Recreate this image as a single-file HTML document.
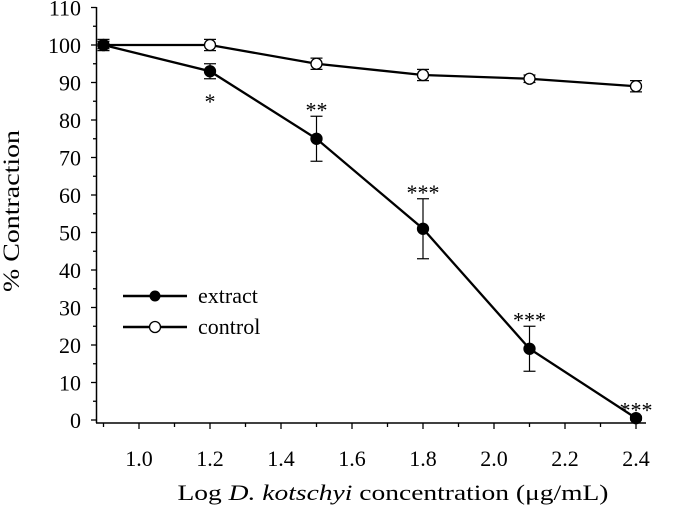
<!DOCTYPE html>
<html><head><meta charset="utf-8">
<style>
body{margin:0;background:#fff;}
svg{display:block;font-family:"Liberation Serif",serif;}
</style></head>
<body>
<svg id="chart" width="674" height="506" viewBox="0 0 674 506">
<g id="axes"></g>
<g id="series"></g>
<text x="19" y="211" font-size="23" text-anchor="middle" textLength="162" lengthAdjust="spacingAndGlyphs" transform="rotate(-90 19 211)">% Contraction</text>
<text x="393" y="500" font-size="22" text-anchor="middle" textLength="431" lengthAdjust="spacingAndGlyphs">Log <tspan font-style="italic">D. kotschyi</tspan> concentration (μg/mL)</text>
<g>
<g>
<line x1="123" y1="296" x2="187" y2="296" stroke="#000" stroke-width="2.5"/>
<circle cx="155" cy="296" r="5.5" fill="#000"/>
<text x="198" y="303" font-size="22">extract</text></g>
<g>
<line x1="123" y1="327" x2="187" y2="327" stroke="#000" stroke-width="2.5"/>
<circle cx="155" cy="327" r="5.5" fill="#fff" stroke="#000" stroke-width="1.3"/>
<text x="198" y="334" font-size="22">control</text></g>
</g>
</svg>
<script>
const doses=[0.9,1.2,1.5,1.8,2.1,2.4];
const extract=[100,93,75,51,19,0.5];
const extractErr=[1,2,6,8,6,0.5];
const control=[100,100,95,92,91,89];
const controlErr=[1.5,1.5,1.5,1.5,1,1.5];
const stars=["","*","**","***","***","***"];
const yTicks=[0,10,20,30,40,50,60,70,80,90,100,110];
const xTicks=["1.0","1.2","1.4","1.6","1.8","2.0","2.2","2.4"];
const NS="http://www.w3.org/2000/svg";
const X=v=>139+(v-1.0)*355;
const Y=v=>420-v*3.75;
function mk(tag,attrs,parent){const e=document.createElementNS(NS,tag);for(const k in attrs)e.setAttribute(k,attrs[k]);parent.appendChild(e);return e;}
const axes=document.getElementById('axes'),ser=document.getElementById('series');
let a=mk('line',{x1:96.5,y1:7,x2:96.5,y2:423,stroke:'#000','stroke-width':1.5},axes);

a=mk('line',{x1:96,y1:423,x2:646,y2:423,stroke:'#000','stroke-width':1.5},axes);

yTicks.forEach((v,i)=>{
  mk('line',{x1:91,y1:Y(v),x2:96.5,y2:Y(v),stroke:'#000','stroke-width':1.3},axes);
  if(i<yTicks.length-1)mk('line',{x1:93,y1:Y(v+5),x2:96.5,y2:Y(v+5),stroke:'#000','stroke-width':1.3},axes);
  const t=mk('text',{x:81,y:Y(v)+8,'font-size':22,'text-anchor':'end'},axes);t.textContent=v;
  
});
for(let k=0;k<16;k++){const v=0.9+k*0.1;const big=k%2===1;
  mk('line',{x1:X(v),y1:423,x2:X(v),y2:big?429:427,stroke:'#000','stroke-width':1.3},axes);}
xTicks.forEach(s=>{const t=mk('text',{x:X(parseFloat(s)),y:466,'font-size':22,'text-anchor':'middle'},axes);t.textContent=s;
  });
function draw(vals,errs,fill,name){
  const g=mk('g',{},ser);
  mk('polyline',{points:doses.map((d,i)=>X(d)+','+Y(vals[i])).join(' '),fill:'none',stroke:'#000','stroke-width':2.3},g);
  doses.forEach((d,i)=>{const x=X(d),y1=Y(vals[i]-errs[i]),y2=Y(vals[i]+errs[i]);
    mk('line',{x1:x,y1:y1,x2:x,y2:y2,stroke:'#000','stroke-width':1.2},g);
    mk('line',{x1:x-6,y1:y1,x2:x+6,y2:y1,stroke:'#000','stroke-width':1.2},g);
    mk('line',{x1:x-6,y1:y2,x2:x+6,y2:y2,stroke:'#000','stroke-width':1.2},g);
    const c=mk('circle',{cx:x,cy:Y(vals[i]),r:5.5,fill:fill,stroke:'#000','stroke-width':1.3},g);
    });
}
draw(control,controlErr,'#fff','control');
draw(extract,extractErr,'#000','extract');
doses.forEach((d,i)=>{if(!stars[i])return;
  const below=i===1;
  const y=below?Y(extract[i]-extractErr[i])+30:Y(extract[i]+extractErr[i])+1;
  const t=mk('text',{x:X(d),y:y,'font-size':22,'text-anchor':'middle'},ser);t.textContent=stars[i];
  });
</script>
</body></html>
